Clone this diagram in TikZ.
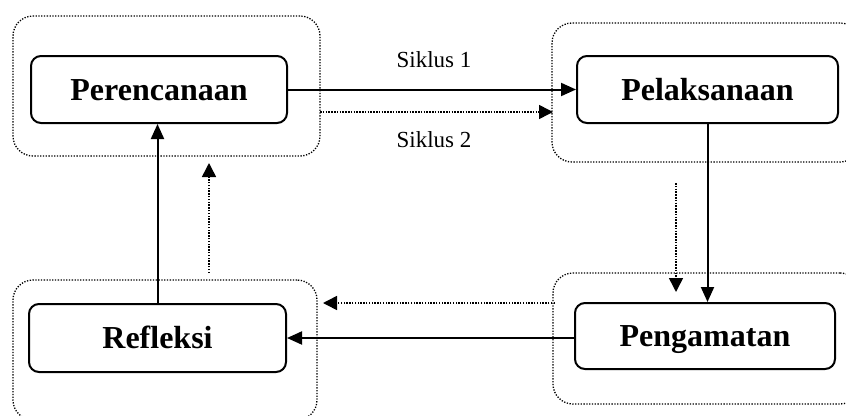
\documentclass[tikz,border=0pt]{standalone}
\usepackage{fontspec}
\setmainfont{Liberation Serif}
\usetikzlibrary{arrows.meta}
\tikzset{
  stagebox/.style={draw, line width=2pt, rounded corners=10pt, inner sep=0pt,
    text height=21pt, text depth=0pt,
    font=\fontsize{32}{36}\selectfont\bfseries},
  groupbox/.style={draw, line width=1.3pt, dash pattern=on 1.3pt off 1.5pt,
    rounded corners=20pt, inner sep=0pt},
  solidarrow/.style={line width=2pt, -{Triangle[length=15pt,width=13pt]}},
  dotarrow/.style={line width=1.5pt, dash pattern=on 1.5pt off 1.3pt,
    -{Triangle[length=14pt,width=14pt]}},
  cyclelabel/.style={font=\fontsize{23}{26}\selectfont, inner sep=0pt}
}
\begin{document}
\begin{tikzpicture}[x=1pt,y=-1pt]
\useasboundingbox (0,0) rectangle (846,415);
\clip (0,0) rectangle (846,415);

% dotted group frames around each stage
\node[groupbox, minimum width=307pt, minimum height=140pt] (pg) at (166.5,86) {};
\node[groupbox, minimum width=308pt, minimum height=139pt] (lg) at (706,92.5) {};
\node[groupbox, minimum width=304pt, minimum height=140pt] (rg) at (165,350) {};
\node[groupbox, minimum width=307pt, minimum height=131pt] (ag) at (706.5,338.5) {};

% the four stages
\node[stagebox, minimum width=256pt, minimum height=67pt] (per) at (159,89.5) {Perencanaan};
\node[stagebox, minimum width=261pt, minimum height=67pt] (pel) at (707.5,89.5) {Pelaksanaan};
\node[stagebox, minimum width=257pt, minimum height=68pt] (ref) at (157.5,338) {Refleksi};
\node[stagebox, minimum width=260pt, minimum height=66pt] (pen) at (705,336) {Pengamatan};

% cycle 1 (solid)
\draw[solidarrow] (per.east) -- (pel.west);
\draw[solidarrow] (pel.south) -- (pel.south |- pen.north);
\draw[solidarrow] (pen.west |- ref.east) -- (ref.east);
\draw[solidarrow] (ref.north) -- (ref.north |- per.south);

% cycle 2 (dotted)
\coordinate (s2a) at (320,112);
\coordinate (s2b) at (553,112);
\coordinate (d2a) at (676,183);
\coordinate (d2b) at (676,292);
\coordinate (l2a) at (555,303);
\coordinate (l2b) at (323,303);
\coordinate (u2a) at (209,273);
\coordinate (u2b) at (209,163);
\draw[dotarrow] (s2a) -- (s2b);
\draw[dotarrow] (d2a) -- (d2b);
\draw[dotarrow] (l2a) -- (l2b);
\draw[dotarrow] (u2a) -- (u2b);

% labels
\node[cyclelabel] (sik1) at (434,60) {Siklus 1};
\node[cyclelabel] (sik2) at (434,140) {Siklus 2};
\end{tikzpicture}
\end{document}
